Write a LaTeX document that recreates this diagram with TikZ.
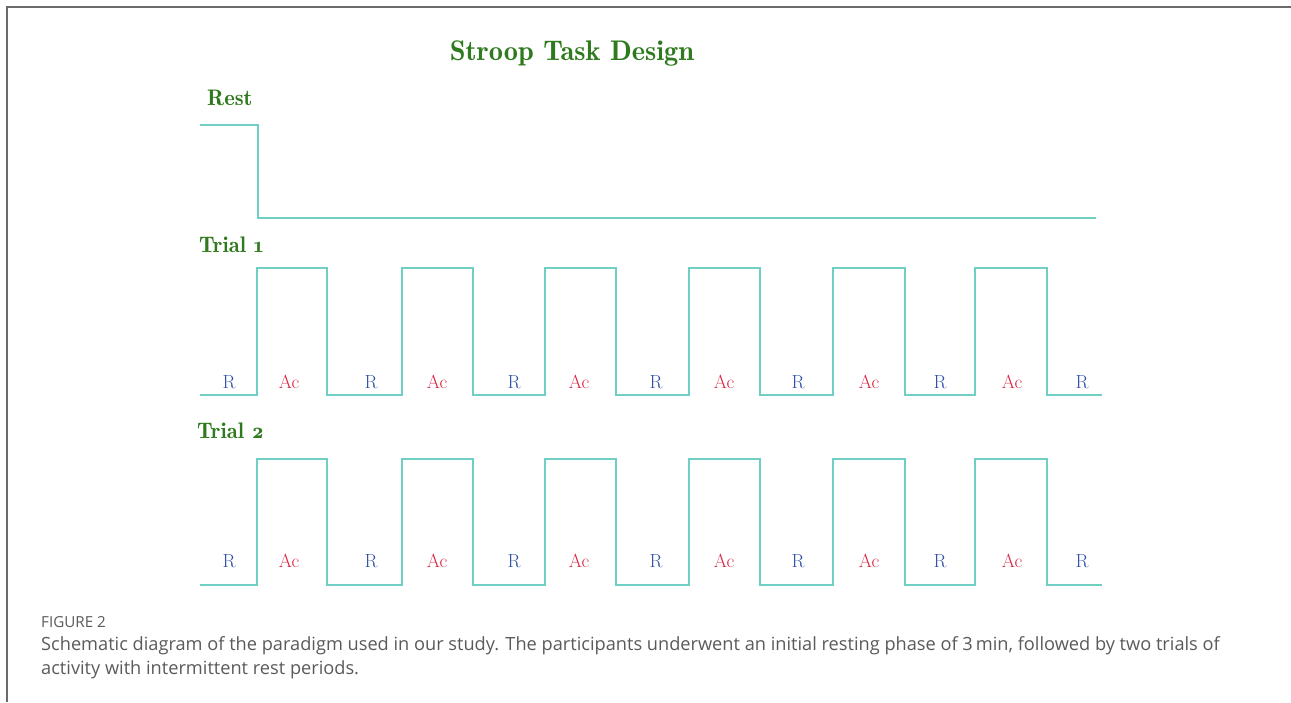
\documentclass[tikz,border=0pt]{standalone}
\usepackage{fontspec}
\usepackage{xcolor}
\usepackage{tikz}
\usetikzlibrary{positioning}
\newfontfamily\capfont{Open Sans}
\newfontfamily\headfont[Numbers=OldStyle]{lmromandemi10-regular.otf}
\definecolor{wavecol}{HTML}{6FCFC2}
\definecolor{headgreen}{HTML}{2F7A1F}
\definecolor{restblue}{HTML}{2E4FA6}
\definecolor{actred}{HTML}{D92340}
\definecolor{capgray}{HTML}{5A5A5A}
\definecolor{framegray}{HTML}{6B6B6B}
\tikzset{
    every picture/.style={line cap=butt,line join=miter},
    wave/.style={draw=wavecol,line width=2.3pt},
    heading/.style={text=headgreen,font=\headfont\fontsize{22.5}{26}\selectfont,inner sep=0pt},
    restlabel/.style={text=restblue,font=\fontsize{19}{22}\selectfont,inner sep=0pt},
    actlabel/.style={text=actred,font=\fontsize{19}{22}\selectfont,inner sep=0pt},
    captext/.style={text=capgray,font=\capfont\fontsize{18.2}{24}\selectfont,
      inner sep=0pt,align=left,anchor=base west}
}

\begin{document}
\begin{tikzpicture}[x=1pt,y=-1pt]
    \useasboundingbox (0,0) rectangle (1291,702);
    % frame
    \draw[framegray,line width=1.5pt] (7,702) -- (7,7) -- (1291,7);

    \node[heading,font=\headfont\fontsize{28.4}{32}\selectfont] (title) at (572,53) {Stroop Task Design};
    \node[heading,anchor=west] (rest) at (207,98) {Rest};
    \node[heading,anchor=west] (trialA) at (199,245) {Trial 1};
    \node[heading,anchor=west] (trialB) at (197,431) {Trial 2};

    % rest phase
    \draw[wave] (200,125) -- (258,125) -- (258,218) -- (1096,218);

    % trials
    \foreach \lo/\hi/\ly in {395/268/382,585/459/561}{
        \draw[wave] (200,\lo)
            foreach \r/\f in {257/327,402/473,545/616,689/760,833/905,975/1047}{
                -- (\r,\lo) -- (\r,\hi) -- (\f,\hi) -- (\f,\lo)}
            -- (1102,\lo);
        \foreach \x in {229,371,514,656,798,940,1082}
            \node[restlabel] at (\x,\ly) {R};
        \foreach \x in {289,437,579,724,869,1012}
            \node[actlabel] at (\x,\ly) {Ac};
    }

    % caption
    \node[captext,font=\capfont\fontsize{15.2}{17}\selectfont] (fig) at (41,627) {FIGURE 2};
    \node[captext] (cap) at (41,674) {Schematic diagram of the paradigm used in our study. The participants underwent an initial resting phase of 3\,min, followed by two trials of\\activity with intermittent rest periods.};
\end{tikzpicture}
\end{document}
